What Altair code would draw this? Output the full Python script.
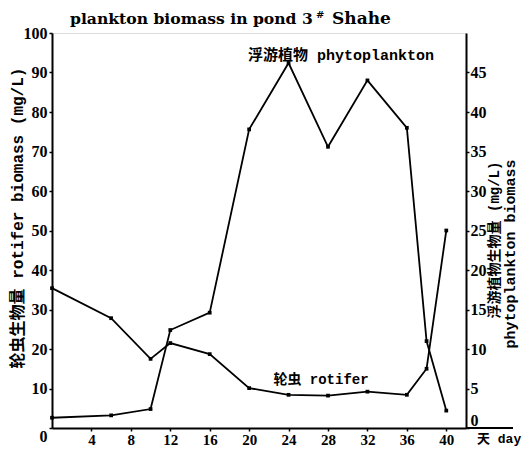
import altair as alt
import pandas as pd

# ---- data ----
rot_days = [0, 6, 10, 12, 16, 20, 24, 28, 32, 36, 38, 40]
rot_vals = [35.4, 27.8, 17.5, 21.5, 18.7, 10.1, 8.4, 8.2, 9.2, 8.4, 15.0, 50.0]
phy_days = [0, 6, 10, 12, 16, 20, 24, 28, 32, 36, 38, 40]
phy_vals = [1.3, 1.6, 2.4, 12.4, 14.6, 37.8, 46.2, 35.6, 44.0, 38.0, 11.0, 2.2]
left_ticks = list(range(0, 101, 10))
right_ticks = list(range(0, 46, 5))
x_ticks = list(range(4, 41, 4))

rot = pd.DataFrame({"day": rot_days, "v": rot_vals})
phy = pd.DataFrame({"day": phy_days, "p": phy_vals})

W, H = 414, 395
SERIF = "Liberation Serif"
MONO = "Liberation Mono, Noto Sans CJK SC"

xscale = alt.Scale(domain=[0, 42], nice=False, zero=False)
x_axis = alt.Axis(values=x_ticks, title=None, grid=False,
                  domainColor="black", domainWidth=2,
                  tickColor="black", tickSize=3, tickWidth=1.5,
                  labelFont=SERIF, labelFontWeight="bold",
                  labelFontSize=15, labelColor="black",
                  labelPadding=1)
x_main = alt.X("day:Q", scale=xscale, axis=x_axis)

y_left = alt.Y("v:Q", scale=alt.Scale(domain=[0, 100], nice=False),
               axis=alt.Axis(values=left_ticks, title=None, grid=False,
                             domainColor="black", domainWidth=2,
                             tickColor="black", tickSize=3, tickWidth=1.5,
                             labelFont=SERIF, labelFontWeight="bold",
                             labelFontSize=16, labelColor="black",
                             labelPadding=2,
                             labelOffset={"condition": {"test": "datum.value == 0", "value": 8}, "value": 0}))
y_right = alt.Y("p:Q", scale=alt.Scale(domain=[0, 50], nice=False),
                axis=alt.Axis(orient="right", values=right_ticks, title=None,
                              grid=False, domainColor="black", domainWidth=2,
                              tickColor="black", tickSize=3, tickWidth=1.5,
                              labelFont=SERIF, labelFontWeight="bold",
                              labelFontSize=16, labelColor="black",
                              labelPadding=1,
                              labelOffset={"condition": {"test": "datum.value == 0", "value": -8}, "value": 0}))

rot_line = alt.Chart(rot).mark_line(color="black", strokeWidth=1.8).encode(x=x_main, y=y_left)
rot_pts = alt.Chart(rot).mark_point(shape="square", filled=True, color="black", size=14, opacity=1).encode(x=x_main, y=y_left)
phy_line = alt.Chart(phy).mark_line(color="black", strokeWidth=1.8).encode(x=x_main, y=y_right)
phy_pts = alt.Chart(phy).mark_point(shape="square", filled=True, color="black", size=14, opacity=1).encode(x=x_main, y=y_right)

base = alt.Chart(pd.DataFrame({"a": [0]}))

def txt(text, x, y, size, font, angle=0, align="left", baseline="alphabetic"):
    return base.mark_text(text=text, font=font, fontSize=size, fontWeight="bold",
                          color="black", align=align, baseline=baseline,
                          angle=angle).encode(x=alt.value(x), y=alt.value(y))

title1 = txt("plankton biomass in pond 3", 18, -9, 15.6, "DejaVu Serif")
title2 = txt("#", 264, -15, 10, "DejaVu Serif")
title3 = txt("Shahe", 280, -9, 17, "DejaVu Serif")

lab_phy = txt("浮游植物 phytoplankton", 289, 22, 15, MONO, align="center", baseline="middle")
lab_rot = txt("轮虫 rotifer", 269, 347, 14, MONO, align="center", baseline="middle")

ytitle_l = txt("轮虫生物量 rotifer biomass (mg/L)", -34, 185, 16, MONO, angle=270, align="center", baseline="middle")
ytitle_r1 = txt("浮游植物生物量 (mg/L)", 443, 207, 14, MONO, angle=270, align="center", baseline="middle")
ytitle_r2 = txt("phytoplankton biomass", 458, 221, 15, MONO, angle=270, align="center", baseline="middle")

ext = base.mark_rule(color="black", strokeWidth=2).encode(
    x=alt.value(W), x2=alt.value(461), y=alt.value(H))
day_lab = txt("天 day", 425, 406, 13, MONO, baseline="middle")

left = alt.layer(rot_line, rot_pts)
right = alt.layer(phy_line, phy_pts)
deco = alt.layer(title1, title2, title3, lab_phy, lab_rot, ytitle_l,
                 ytitle_r1, ytitle_r2, ext, day_lab)

chart = alt.layer(left, right, deco).resolve_scale(y="independent").properties(
    width=W, height=H,
    autosize=alt.AutoSizeParams(type="none"),
    padding={"left": 44, "top": 25, "right": 57, "bottom": 18},
).configure_view(stroke=None).configure(background="white")

chart.save("out.html", embed_options={"renderer": "svg", "actions": False})
